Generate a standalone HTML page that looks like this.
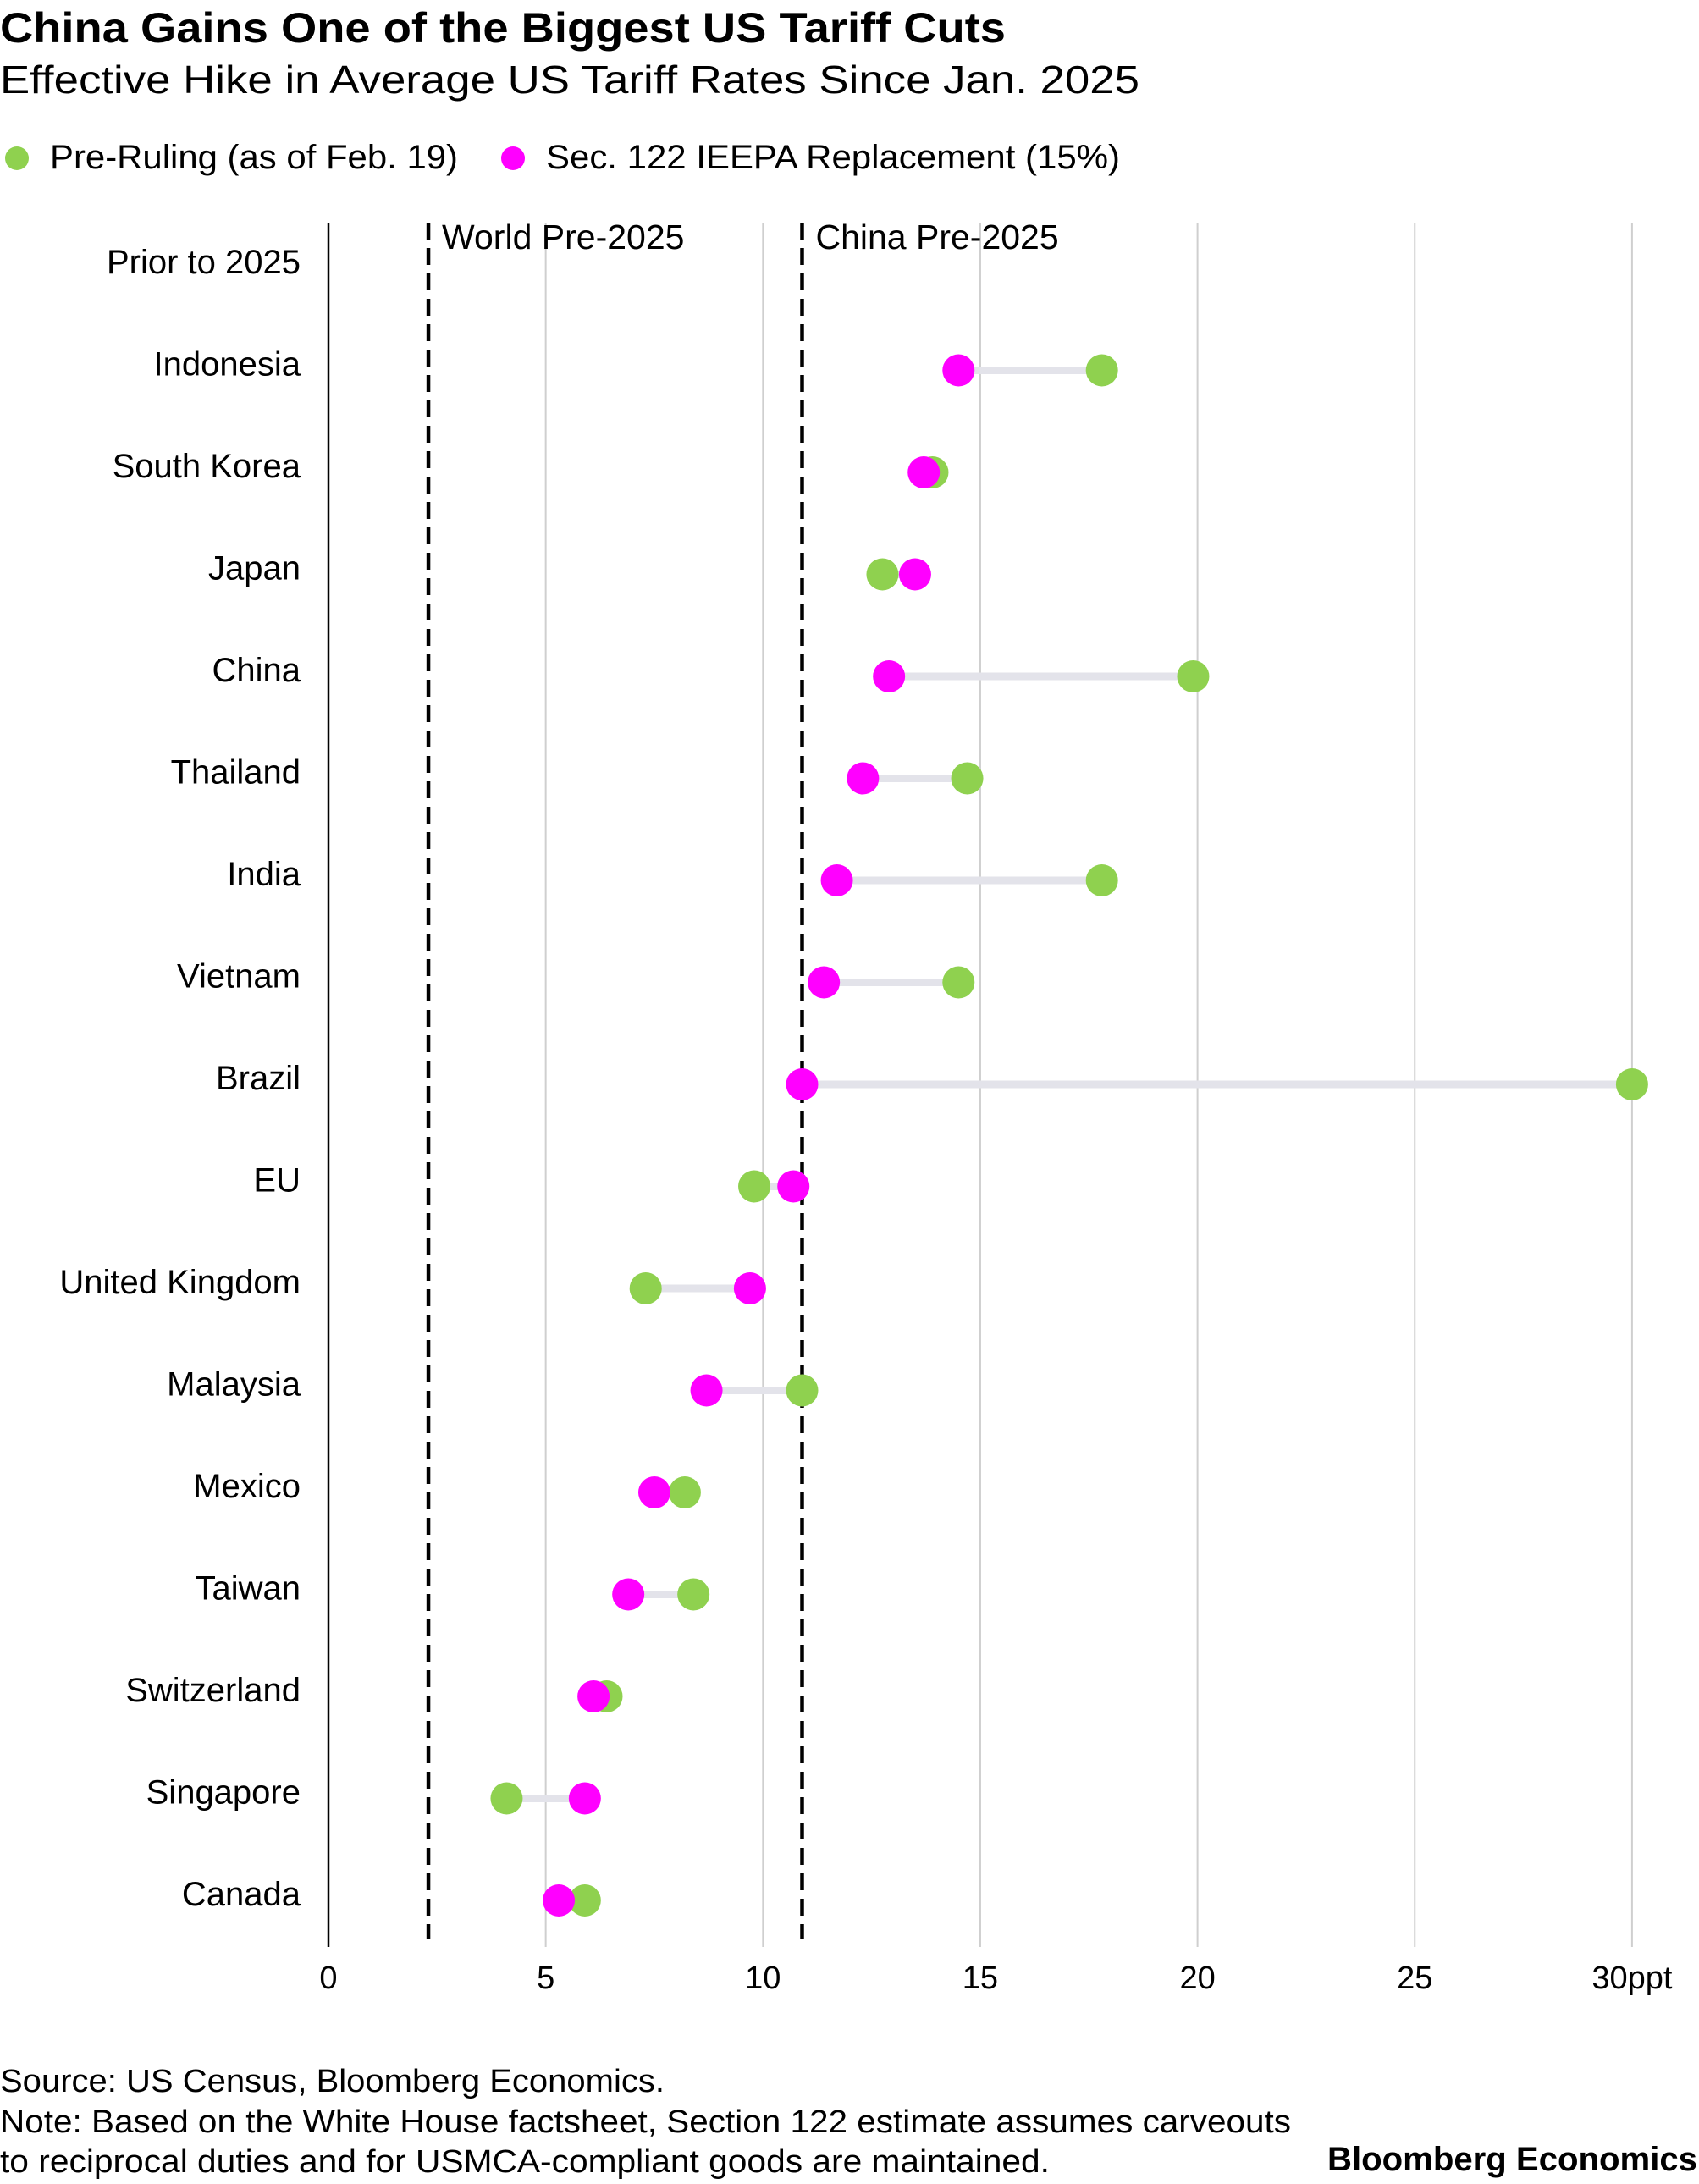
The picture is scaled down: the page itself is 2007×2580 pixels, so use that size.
<!DOCTYPE html>
<html><head><meta charset="utf-8"><style>
html,body{margin:0;padding:0;background:#fff;}
svg{display:block;font-family:"Liberation Sans",Arial,sans-serif;}
</style></head><body>
<svg id="chart" width="2007" height="2580" viewBox="0 0 2007 2580">
<text x="0" y="50" font-size="50" font-weight="bold" textLength="1188" lengthAdjust="spacingAndGlyphs">China Gains One of the Biggest US Tariff Cuts</text>
<text x="0" y="110" font-size="46" textLength="1346" lengthAdjust="spacingAndGlyphs">Effective Hike in Average US Tariff Rates Since Jan. 2025</text>
<g>
<circle cx="20" cy="187" r="14" fill="#8fd14f"/>
<text x="59" y="199" font-size="40" textLength="482" lengthAdjust="spacingAndGlyphs">Pre-Ruling (as of Feb. 19)</text>
<circle cx="606" cy="187" r="14" fill="#ff00ff"/>
<text x="645" y="199" font-size="40" textLength="678" lengthAdjust="spacingAndGlyphs">Sec. 122 IEEPA Replacement (15%)</text>
</g>
<g id="plot"></g>
<g>
<text x="0" y="2471" font-size="38" textLength="785" lengthAdjust="spacingAndGlyphs">Source: US Census, Bloomberg Economics.</text>
<text x="0" y="2519" font-size="38" textLength="1525" lengthAdjust="spacingAndGlyphs">Note: Based on the White House factsheet, Section 122 estimate assumes carveouts</text>
<text x="0" y="2566" font-size="38" textLength="1240" lengthAdjust="spacingAndGlyphs">to reciprocal duties and for USMCA-compliant goods are maintained.</text>
<text x="2005" y="2564" font-size="40" font-weight="bold" text-anchor="end" textLength="437" lengthAdjust="spacingAndGlyphs">Bloomberg Economics</text>
</g>
</svg>
<script>
const categories = ["Prior to 2025","Indonesia","South Korea","Japan","China","Thailand","India","Vietnam","Brazil","EU","United Kingdom","Malaysia","Mexico","Taiwan","Switzerland","Singapore","Canada"];
const preRuling = [null,17.8,13.9,12.75,19.9,14.7,17.8,14.5,30.0,9.8,7.3,10.9,8.2,8.4,6.4,4.1,5.9];
const sec122 = [null,14.5,13.7,13.5,12.9,12.3,11.7,11.4,10.9,10.7,9.7,8.7,7.5,6.9,6.1,5.9,5.3];
const xTicks = [0,5,10,15,20,25,30];
const xTickLabels = ["0","5","10","15","20","25","30ppt"];
const refValues = [2.3,10.9];
const refLabels = ["World Pre-2025","China Pre-2025"];

const NS="http://www.w3.org/2000/svg";
const plot=document.getElementById('plot');
const X0=388, PXU=51.33, TOP=263, BOT=2300, ROW0=317, ROWH=120.5;
const xs=v=>X0+v*PXU;
const ys=i=>ROW0+i*ROWH;
function mk(tag,attrs,parent){const e=document.createElementNS(NS,tag);for(const k in attrs)e.setAttribute(k,attrs[k]);(parent||plot).appendChild(e);return e;}

xTicks.forEach((t,i)=>{
  if(t>0){const g=mk('line',{x1:xs(t),x2:xs(t),y1:TOP,y2:BOT,stroke:'#cfcfcf','stroke-width':2});
  
  }
  const tl=mk('text',{x:xs(t),y:2349,'font-size':38,'text-anchor':'middle'});
  tl.textContent=xTickLabels[i];
  
  
});
const ax=mk('line',{x1:xs(0),x2:xs(0),y1:TOP,y2:BOT,stroke:'#000','stroke-width':2.5});



refValues.forEach((v,i)=>{
  const l=mk('line',{x1:xs(v),x2:xs(v),y1:TOP,y2:2290,stroke:'#000','stroke-width':4.5,'stroke-dasharray':'20 10'});
  
  
  const t=mk('text',{x:xs(v)+16,y:294,'font-size':41});
  t.textContent=refLabels[i];
  
  
});

categories.forEach((c,i)=>{
  const y=ys(i);
  const lab=mk('text',{x:355,y:y+6,'font-size':40,'text-anchor':'end'});
  lab.textContent=c;
  
  
  if(preRuling[i]==null)return;
  const a=preRuling[i], b=sec122[i];
  const con=mk('line',{x1:xs(Math.min(a,b)),x2:xs(Math.max(a,b)),y1:y,y2:y,stroke:'#e3e3ea','stroke-width':9});
  
  
  const g=mk('circle',{cx:xs(a),cy:y,r:19,fill:'#8fd14f'});
  
  
  const m=mk('circle',{cx:xs(b),cy:y,r:19,fill:'#ff00ff'});
  
  
});
</script>
</body></html>
